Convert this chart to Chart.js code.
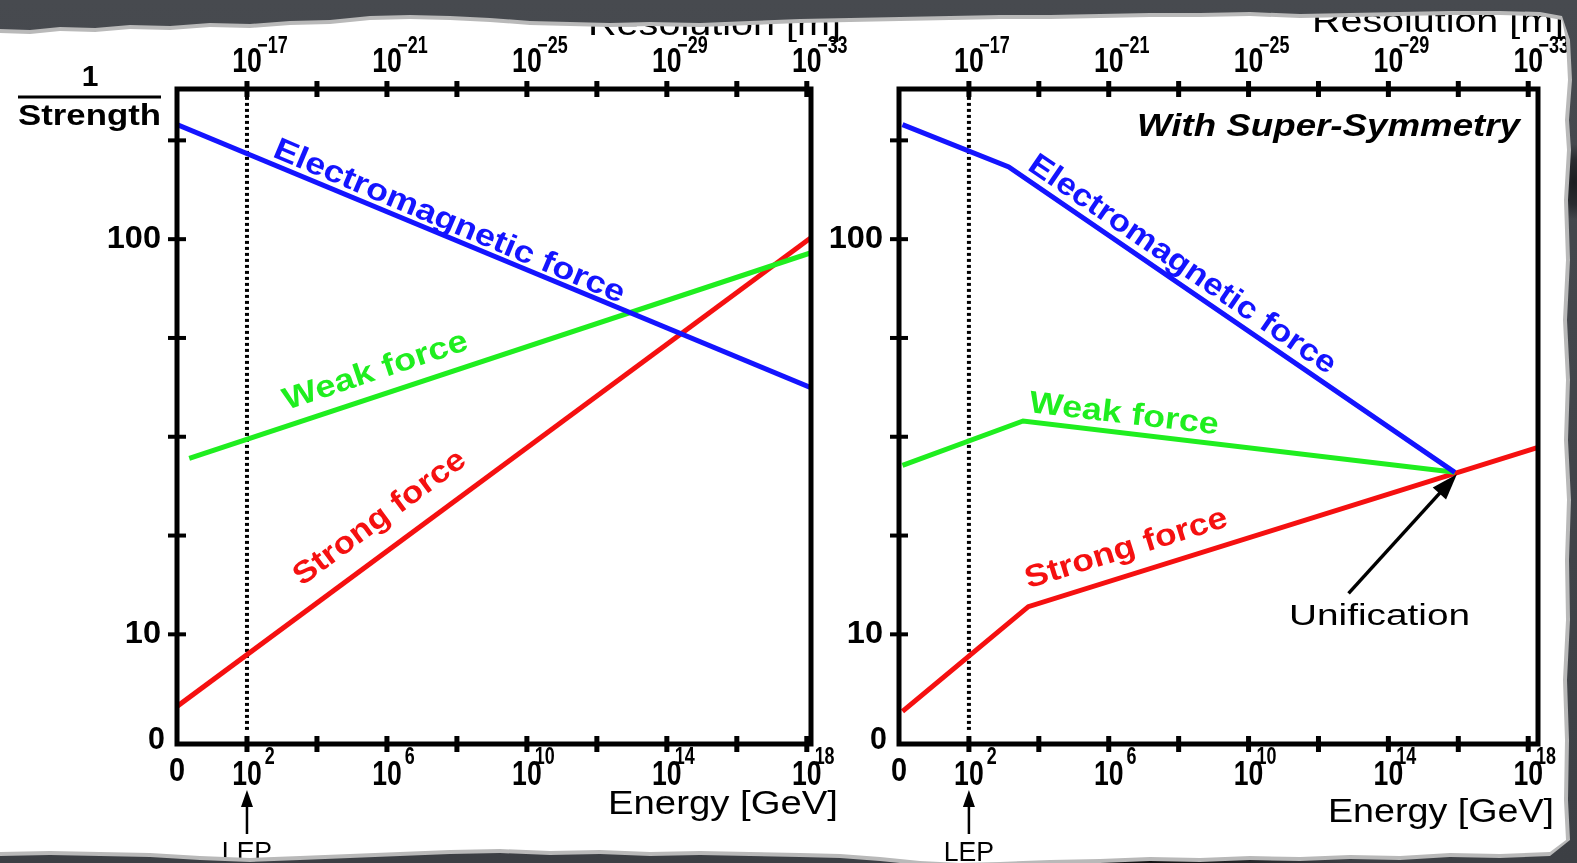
<!DOCTYPE html>
<html><head><meta charset="utf-8">
<script src="https://cdn.jsdelivr.net/npm/chart.js@4.4.1/dist/chart.umd.min.js"></script>
<style>
html,body{margin:0;padding:0;width:1577px;height:863px;overflow:hidden;background:#3e4146;}
#bg{position:absolute;left:0;top:0;width:1577px;height:863px;
 background:
 radial-gradient(ellipse 22px 38px at 1574px 182px, #1c1d20 0%, #2a2c30 60%, rgba(0,0,0,0) 100%),
 radial-gradient(ellipse 200px 10px at 1150px 862px, #111 0%, rgba(0,0,0,0) 100%),
 linear-gradient(180deg,#474a4f 0%,#3c3f44 100%);}
#fringe,#paper{position:absolute;left:0;top:0;width:1577px;height:863px;}
#fringe{background:#b9b9b9;}
#paper{background:#fff;}
canvas{position:absolute;top:0;}
#c1{left:0;}
#c2{left:820px;}
</style>
</head><body>
<div id="bg"></div>
<div id="fringe"></div>
<div id="paper">
<canvas id="c1" width="870" height="863"></canvas>
<canvas id="c2" width="757" height="863"></canvas>
</div>
<script>
// ---------- DATA ----------
// x = log10(Energy / GeV), y = 1/strength (axis as drawn)
const xTickValues = [2, 4, 6, 8, 10, 12, 14, 16, 18];
const bottomLabelPos = [0, 2, 6, 10, 14, 18];
const bottomLabelBase = ['0', '10', '10', '10', '10', '10'];
const bottomLabelExp = ['', '2', '6', '10', '14', '18'];
const topLabelPos = [2, 6, 10, 14, 18];
const topLabelExp = ['\u221217', '\u221221', '\u221225', '\u221229', '\u221233'];
const yTickValues = [10, 20, 30, 40, 50, 60];
const yTickLabels = ['10', '', '', '', '100', ''];
const yBottomLabel = '0';
const lepEnergy = 2;

// Standard Model panel
const smEmX = [0, 18.1];      const smEm = [61.6, 35.0];
const smWeakX = [0.35, 18.1]; const smWeak = [27.8, 48.6];
const smStrongX = [0, 18.1];  const smStrong = [2.7, 50.1];
// Super-Symmetry panel
const susyEmX = [0.1, 3.14, 15.9];      const susyEm = [61.6, 57.3, 26.4];
const susyWeakX = [0.1, 3.55, 15.9];    const susyWeak = [27.1, 31.6, 26.4];
const susyStrongX = [0.1, 3.70, 18.26]; const susyStrong = [2.2, 12.8, 28.9];
const unificationPoint = [15.96, 26.2];

const seriesNames = ['Electromagnetic force', 'Weak force', 'Strong force'];
const seriesColors = ['#1414ff', '#1fee1f', '#f51010'];

// ---------- HELPERS ----------
const FONT = '"Liberation Sans", Arial, Helvetica, sans-serif';
const Y_MIN = -1.1, Y_MAX = 65.2;

function pts(xs, ys) { return xs.map((x, i) => ({x: x, y: ys[i]})); }

function txt(ctx, s, x, y, o) {
  ctx.save();
  ctx.font = (o.italic ? 'italic ' : '') + (o.bold ? 'bold ' : '') + o.size + 'px ' + FONT;
  ctx.fillStyle = o.color || '#000';
  ctx.textAlign = o.align || 'center';
  ctx.textBaseline = o.baseline || 'middle';
  let sx = o.sx || 1;
  if (o.width) sx = o.width / ctx.measureText(s).width;
  ctx.translate(x, y);
  if (o.angle) ctx.rotate(o.angle);
  ctx.scale(sx, 1);
  ctx.fillText(s, 0, 0);
  ctx.restore();
}

function supLabel(ctx, cx, cy, base, exp, expDy, reach) {
  const sx = 0.76;
  ctx.save();
  ctx.font = 'bold 35px ' + FONT;
  const wb = ctx.measureText(base).width * sx;
  ctx.restore();
  txt(ctx, base, cx, cy, {size: 35, sx: sx, bold: true});
  if (exp) {
    txt(ctx, exp, cx + wb / 2 + reach, cy + expDy, {size: 23, sx: 0.78, bold: true, align: 'right'});
  }
}

function arrowHead(ctx, x1, y1, x2, y2, len, half) {
  const a = Math.atan2(y2 - y1, x2 - x1);
  ctx.beginPath();
  ctx.moveTo(x2, y2);
  ctx.lineTo(x2 - len * Math.cos(a) + half * Math.sin(a), y2 - len * Math.sin(a) - half * Math.cos(a));
  ctx.lineTo(x2 - len * Math.cos(a) - half * Math.sin(a), y2 - len * Math.sin(a) + half * Math.cos(a));
  ctx.closePath();
  ctx.fill();
}

const decorPlugin = {
  id: 'decor',
  beforeDatasetsDraw(chart, args, o) {
    const ctx = chart.ctx, xs = chart.scales.x, ys = chart.scales.y;
    const px = xs.getPixelForValue(lepEnergy);
    ctx.save();
    ctx.strokeStyle = '#000'; ctx.lineWidth = 4; ctx.setLineDash([3, 3]);
    ctx.beginPath();
    ctx.moveTo(px, ys.getPixelForValue(64.4));
    ctx.lineTo(px, ys.getPixelForValue(0.3));
    ctx.stroke();
    ctx.restore();
  },
  afterDatasetsDraw(chart, args, o) {
    const ctx = chart.ctx, xs = chart.scales.x, ys = chart.scales.y, a = chart.chartArea;
    const ox = o.offsetX;
    ctx.save();
    ctx.strokeStyle = '#000'; ctx.fillStyle = '#000';
    ctx.lineJoin = 'miter'; ctx.lineCap = 'butt';
    // frame
    ctx.lineWidth = 5;
    ctx.strokeRect(a.left, a.top, a.right - a.left, a.bottom - a.top);
    // x ticks (top & bottom, crossing the frame)
    ctx.lineWidth = 5;
    xTickValues.forEach(v => {
      const p = xs.getPixelForValue(v);
      ctx.beginPath();
      ctx.moveTo(p, a.bottom - 8); ctx.lineTo(p, a.bottom + 8);
      ctx.moveTo(p, a.top - 8); ctx.lineTo(p, a.top + 8);
      ctx.stroke();
    });
    // y ticks
    ctx.lineWidth = 4;
    yTickValues.forEach(v => {
      const p = ys.getPixelForValue(v);
      ctx.beginPath();
      ctx.moveTo(a.left - 9, p); ctx.lineTo(a.left + 9, p);
      ctx.stroke();
    });
    // y tick labels
    yTickValues.forEach((v, i) => {
      if (yTickLabels[i]) txt(ctx, yTickLabels[i], a.left - 16, ys.getPixelForValue(v), {size: 31, bold: true, align: 'right', sx: 1.05});
    });
    txt(ctx, yBottomLabel, a.left - 12, a.bottom - 4, {size: 32, bold: true, align: 'right', sx: 0.95});
    // bottom labels
    bottomLabelPos.forEach((v, i) => {
      const p = xs.getPixelForValue(v);
      if (!bottomLabelExp[i]) txt(ctx, bottomLabelBase[i], p, a.bottom + 28, {size: 34, bold: true, sx: 0.85});
      else supLabel(ctx, p, a.bottom + 31, bottomLabelBase[i], bottomLabelExp[i], -17, 13);
    });
    // top labels
    topLabelPos.forEach((v, i) => {
      supLabel(ctx, xs.getPixelForValue(v), a.top - 27, '10', topLabelExp[i], -15, 26);
    });
    // axis titles
    txt(ctx, 'Energy [GeV]', (o.energy[0] + o.energy[1]) / 2 - ox, o.energy[2], {size: 34, width: o.energy[1] - o.energy[0]});
    txt(ctx, 'Resolution [m]', o.res[1] - ox, o.res[2], {size: 34, width: o.res[1] - o.res[0], align: 'right', baseline: 'alphabetic'});
    // LEP marker
    const lx = xs.getPixelForValue(lepEnergy);
    ctx.lineWidth = 2.5;
    ctx.beginPath(); ctx.moveTo(lx, a.bottom + 90); ctx.lineTo(lx, a.bottom + 58); ctx.stroke();
    arrowHead(ctx, lx, a.bottom + 90, lx, a.bottom + 46, 17, 6);
    txt(ctx, 'LEP', lx, 861, {size: 28, sx: 0.95, baseline: 'alphabetic'});
    // 1/Strength
    if (o.strength) {
      txt(ctx, '1', 90 - ox, 78, {size: 30, bold: true});
      ctx.lineWidth = 3;
      ctx.beginPath(); ctx.moveTo(18 - ox, 97); ctx.lineTo(161 - ox, 97); ctx.stroke();
      txt(ctx, 'Strength', 89.5 - ox, 117, {size: 30, bold: true, width: 143});
    }
    // extra texts
    (o.texts || []).forEach(t => {
      txt(ctx, t.text, (t.x1 + t.x2) / 2 - ox, t.cy, {size: t.size, italic: t.italic, bold: t.bold, width: t.x2 - t.x1});
    });
    // unification arrow
    if (o.arrow) {
      const x1 = xs.getPixelForValue(o.arrow[0][0]), y1 = ys.getPixelForValue(o.arrow[0][1]);
      const x2 = xs.getPixelForValue(unificationPoint[0]), y2 = ys.getPixelForValue(unificationPoint[1]);
      ctx.lineWidth = 3.5;
      ctx.beginPath(); ctx.moveTo(x1, y1);
      ctx.lineTo(x2 - (x2 - x1) * 0.15, y2 - (y2 - y1) * 0.15); ctx.stroke();
      arrowHead(ctx, x1, y1, x2, y2, 26, 9);
    }
    // series labels along lines
    (o.lineLabels || []).forEach((l, i) => {
      const x1 = xs.getPixelForValue(l.from[0]), y1 = ys.getPixelForValue(l.from[1]);
      const x2 = xs.getPixelForValue(l.to[0]), y2 = ys.getPixelForValue(l.to[1]);
      const ang = Math.atan2(y2 - y1, x2 - x1);
      const w = Math.hypot(x2 - x1, y2 - y1);
      txt(ctx, seriesNames[i], x1, y1, {size: 31, bold: true, color: seriesColors[i], width: w, angle: ang, align: 'left', baseline: 'alphabetic'});
    });
    ctx.restore();
  }
};

function datasets(exs) {
  return exs.map((d, i) => ({
    label: seriesNames[i], data: pts(d[0], d[1]),
    borderColor: seriesColors[i], borderWidth: 5, pointRadius: 0, tension: 0,
    borderCapStyle: 'butt', fill: false
  }));
}

function makeChart(id, ds, xmax, padding, decor) {
  return new Chart(document.getElementById(id), {
    type: 'line',
    data: {datasets: ds},
    options: {
      responsive: false, animation: false,
      layout: {padding: padding},
      plugins: {legend: {display: false}, tooltip: {enabled: false}, decor: decor},
      scales: {
        x: {type: 'linear', min: 0, max: xmax, display: false},
        y: {type: 'linear', min: Y_MIN, max: Y_MAX, display: false}
      }
    },
    plugins: [decorPlugin]
  });
}

makeChart('c1', datasets([[smEmX, smEm], [smWeakX, smWeak], [smStrongX, smStrong]]), 18.12,
  {left: 177, top: 89, right: 59, bottom: 119},
  {
    offsetX: 0, strength: true,
    energy: [608, 838, 805], res: [588, 841, 35],
    lineLabels: [
      {from: [2.70, 58.4], to: [12.66, 43.5]},
      {from: [3.14, 32.7], to: [8.37, 38.9]},
      {from: [3.57, 14.85], to: [8.32, 27.3]}
    ]
  });

makeChart('c2', datasets([[susyEmX, susyEm], [susyWeakX, susyWeak], [susyStrongX, susyStrong]]), 18.28,
  {left: 79, top: 89, right: 39, bottom: 119},
  {
    offsetX: 820, strength: false,
    energy: [1328, 1554, 813], res: [1312, 1564, 32],
    texts: [
      {text: 'With Super-Symmetry', x1: 1137, x2: 1520, cy: 127, size: 31, italic: true, bold: true},
      {text: 'Unification', x1: 1289, x2: 1470, cy: 617, size: 30}
    ],
    arrow: [[12.86, 14.15]],
    lineLabels: [
      {from: [3.64, 57.1], to: [12.27, 36.25]},
      {from: [3.70, 32.5], to: [9.11, 30.24]},
      {from: [3.70, 14.65], to: [9.45, 20.97]}
    ]
  });

// ---------- torn paper edge ----------
const topEdge = [[0,33],[30,34],[60,31],[95,32],[130,29],[170,30],[210,27],[250,28],[290,25],[330,24],[370,20],[410,19],[450,20],[490,22],[530,25],[570,26],[610,27],[650,26],[700,27],[750,25],[800,23],[850,22],[900,21],[950,20],[1000,19],[1050,19],[1100,18],[1150,17],[1200,17],[1250,16],[1300,18],[1350,17],[1400,16],[1450,15],[1500,15],[1540,16],[1562,20]];
const rightEdge = [[1566,40],[1568,80],[1565,120],[1567,150],[1564,200],[1566,260],[1563,320],[1566,380],[1564,440],[1567,500],[1565,560],[1566,620],[1563,680],[1565,740],[1564,800],[1566,840]];
const bottomEdge = [[1550,852],[1500,854],[1450,853],[1400,856],[1350,855],[1300,857],[1250,856],[1200,858],[1150,857],[1100,859],[1050,860],[1000,862],[960,863],[920,861],[880,857],[840,854],[800,853],[750,852],[700,851],[650,852],[600,850],[550,851],[500,849],[450,850],[400,852],[350,854],[300,856],[250,858],[200,856],[150,853],[100,852],[50,851],[0,852]];
function poly(dT, dR, dB) {
  const p = [[-5, topEdge[0][1] + dT]];
  topEdge.forEach(q => p.push([q[0], q[1] + dT]));
  rightEdge.forEach(q => p.push([q[0] + dR, q[1]]));
  bottomEdge.forEach(q => p.push([q[0], q[1] + dB]));
  p.push([-5, bottomEdge[bottomEdge.length - 1][1] + dB]);
  return 'polygon(' + p.map(q => q[0] + 'px ' + q[1] + 'px').join(',') + ')';
}
document.getElementById('paper').style.clipPath = poly(0, 0, 0);
document.getElementById('fringe').style.clipPath = poly(-4, 4, 4);
</script>
</body></html>
